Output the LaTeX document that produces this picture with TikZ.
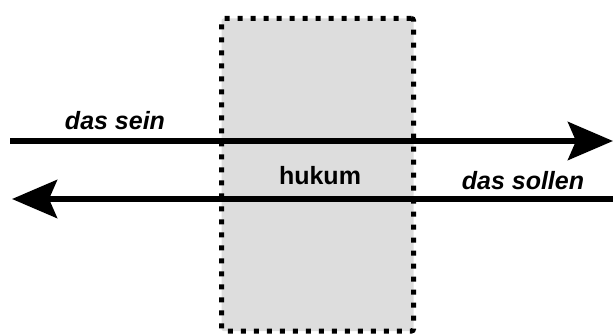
\documentclass[tikz,border=0pt]{standalone}
\usepackage{fontspec}
\setmainfont{Liberation Sans}
\usetikzlibrary{arrows.meta,positioning}
\definecolor{boxgray}{HTML}{DDDDDD}

\begin{document}
\begin{tikzpicture}[x=1pt,y=-1pt]
	\tikzset{lawbox/.style={draw, line width=5pt, dash pattern=on 5pt off 8pt, fill=boxgray, rounded corners=2pt, minimum width=192pt, minimum height=312.5pt, inner sep=0pt},
		flow/.style={line width=6pt, -{Stealth[length=45pt,width=38pt,inset=8pt]}},
		lbl/.style={font=\fontsize{25}{30}\selectfont\bfseries\itshape, inner sep=0pt},
		word/.style={font=\fontsize{25}{30}\selectfont\bfseries, inner sep=0pt}}
	\useasboundingbox (0,0) rectangle (613,334);
	\node[lawbox] (law) at (317.5,174.75) {};
	\coordinate (seinA) at (10,141);
	\coordinate (seinB) at (613,141);
	\coordinate (sollenA) at (613,199);
	\coordinate (sollenB) at (12,199);
	\path[flow]
		(seinA) edge (seinB)
		(sollenA) edge (sollenB);
	\node[lbl] (sein) at (115,121) {das sein};
	\node[word] (hukum) at (320,176) {hukum};
	\node[lbl] (sollen) at (523,181) {das sollen};
\end{tikzpicture}
\end{document}
